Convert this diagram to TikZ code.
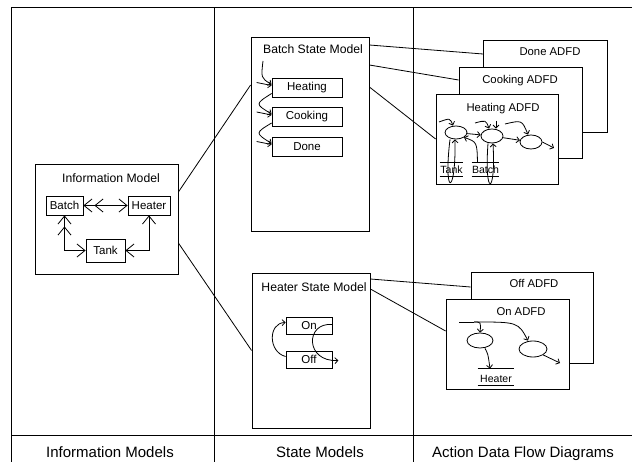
\documentclass[tikz,border=0pt]{standalone}
\usepackage{fontspec}
\setmainfont{Liberation Sans}
\usetikzlibrary{shapes.geometric,arrows.meta}
\tikzset{relone/.tip={Straight Barb[length=8pt,width=13pt]},
  relmany/.tip={Straight Barb[length=8pt,width=13pt,sep=2pt] Straight Barb[length=8pt,width=13pt]}}

\begin{document}
\begin{tikzpicture}[x=1pt, y=-1pt, line width=0.8pt,
  frameline/.style={line width=1pt},
  box/.style={draw, fill=white, inner sep=0pt, font=\fontsize{11.5}{13}\selectfont},
  boxtitle/.style={anchor=base, font=\fontsize{12.2}{14}\selectfont},
  adtitle/.style={anchor=base, font=\fontsize{11.3}{13}\selectfont},
  colname/.style={anchor=base, font=\fontsize{15}{18}\selectfont},
  bubble/.style={draw, ellipse, inner sep=0pt},
  store/.style={inner sep=0pt, font=\fontsize{10.5}{12}\selectfont},
  flow/.style={-{Straight Barb[length=3pt,width=6pt]}}]
\useasboundingbox (0,0) rectangle (632,462);

% page frame and columns
\draw[frameline] (11,462) -- (11,8) -- (632,8);
\foreach \x in {214,413} % column dividers
  \draw[frameline] (\x,8) -- (\x,462);
\draw[frameline] (11,435) -- (632,435);
\node[colname] (imcol) at (110,457) {Information Models};
\node[colname] (smcol) at (320,457) {State Models};
\node[colname] (adcol) at (523,457) {Action Data Flow Diagrams};

% information model
\node[box, minimum width=143, minimum height=110] (im) at (106.5,219) {};
\node[boxtitle] (imtitle) at (111,183) {Information Model};
\node[box, minimum width=37, minimum height=19] (batch) at (64.5,205.5) {Batch};
\node[box, minimum width=42, minimum height=19] (heater) at (149,205.5) {Heater};
\node[box, minimum width=39, minimum height=23] (tank) at (105.5,250.5) {Tank};
\draw[relmany-relone] (batch) -- (heater);
\draw[relmany-relone] (batch.south) |- (tank.west);
\draw[relone-relone] (heater.south) |- (tank.east);

% batch state model
\node[box, minimum width=118, minimum height=194] (bsm) at (310,134) {};
\node[boxtitle] (bsmtitle) at (313,54) {Batch State Model};
\node[box, minimum width=70, minimum height=19] (heating) at (307,87.5) {Heating};
\node[box, minimum width=70, minimum height=19] (cooking) at (307,117) {Cooking};
\node[box, minimum width=70, minimum height=19] (done) at (307,146.5) {Done};
\coordinate (binit) at (263,61);
\draw[flow] (binit) .. controls (261,78) .. ([yshift=3]heating.west);
\draw[flow] ([yshift=-6]heating.west) .. controls (255,104) .. ([yshift=3]cooking.west);
\draw[flow] ([yshift=-6]cooking.west) .. controls (255,133) .. ([yshift=3]done.west);
\foreach \s in {heating,cooking,done} % events
  \draw[flow] ([xshift=-15,yshift=5]\s.west) -- ([yshift=2]\s.west);

% heater state model
\node[box, minimum width=118, minimum height=155] (hsm) at (311,350.5) {};
\node[boxtitle] (hsmtitle) at (314,292) {Heater State Model};
\node[box, minimum width=46, minimum height=17] (hon) at (309,325.5) {On};
\node[box, minimum width=46, minimum height=17] (hoff) at (309,359.5) {Off};
\draw[flow] ([yshift=3]hoff.west) .. controls (268,352) and (268,323) .. ([yshift=3]hon.west);
\draw[flow] ([yshift=1]hon.east) .. controls (305,322) and (305,362) .. ([xshift=6,yshift=-1]hoff.east);

\draw ([yshift=27]im.east) -- ([yshift=49]bsm.west);
\draw ([yshift=-24]im.east) -- (hsm.west);

% batch ADFDs, back to front
\draw ([yshift=89]bsm.east) -- (483,54);
\node[box, minimum width=124, minimum height=92] (donead) at (545,86) {};
\node[adtitle] (doneadtitle) at (550,56) {Done ADFD};
\node[box, minimum width=123, minimum height=91] (cookingad) at (520.5,112.5) {};
\node[adtitle] (cookingadtitle) at (520,84) {Cooking ADFD};
\node[box, minimum width=122, minimum height=90] (heatingad) at (497,139) {};
\node[adtitle] (heatingadtitle) at (503,112) {Heating ADFD};
\draw ([yshift=69]bsm.east) -- ([yshift=32.5]cookingad.west);
\draw ([yshift=47]bsm.east) -- (heatingad.west);

\node[bubble, minimum width=22, minimum height=13] (hb1) at (456,132.5) {};
\node[bubble, minimum width=22, minimum height=14] (hb2) at (492,136) {};
\node[bubble, minimum width=22, minimum height=14] (hb3) at (531,142) {};
\node[store, minimum width=23, minimum height=13] (tankst) at (451.5,169.5) {Tank};
\node[store, minimum width=25, minimum height=13] (batchst) at (485.5,169.5) {Batch};
\foreach \s in {tankst,batchst}
  \draw (\s.north west) -- (\s.north east) (\s.south west) -- (\s.south east);
\coordinate (hin1) at (439,122);
\coordinate (hin2) at (475,123);
\coordinate (hin3) at (496,121);
\coordinate (hin4) at (505,124);
\coordinate (hout) at (554,148);
\draw[flow] (hin1) .. controls (450,118) .. ([xshift=-3]hb1.north);
\draw[flow] (hin2) .. controls (486,120) .. ([xshift=-3]hb2.north);
\draw[flow] (hin3) -- ([xshift=4]hb2.north);
\draw[flow] (hin4) .. controls (522,120) .. ([xshift=-3]hb3.north);
\draw[flow] (hb1) -- (hb2);
\draw[flow] (hb2) -- (hb3);
\draw[flow] (hb3.east) -- (hout);
\draw[flow] ([xshift=-6]hb1.south) .. controls (443,197) and (456,197) .. ([xshift=-1]hb1.south);
\draw[flow] ([xshift=-8]batchst.north) .. controls (477,142) .. (hb1.south east);
\draw[flow] ([xshift=-4]hb2.south) .. controls (484,197) and (496,197) .. ([xshift=1]hb2.south);

% heater ADFDs
\node[box, minimum width=122, minimum height=91] (offad) at (532,317.5) {};
\node[adtitle] (offadtitle) at (534,288) {Off ADFD};
\node[box, minimum width=123, minimum height=90] (onad) at (507.5,344) {};
\node[adtitle] (onadtitle) at (521,316) {On ADFD};
\draw ([yshift=71.5]hsm.east) -- ([yshift=30.5]offad.west);
\draw ([yshift=61.5]hsm.east) -- ([yshift=13]onad.west);

\node[bubble, minimum width=26, minimum height=15] (ob1) at (480,340.5) {};
\node[bubble, minimum width=28, minimum height=16] (ob2) at (533,349) {};
\node[store, minimum width=36, minimum height=16, text height=11pt, text depth=0pt] (heaterst) at (496,377) {Heater};
\draw (heaterst.north west) -- (heaterst.north east) (heaterst.south west) -- (heaterst.south east);
\coordinate (oin) at (459,322);
\coordinate (osplit) at (474,322);
\coordinate (oout) at (560,363);
\draw (oin) -- (osplit);
\draw[flow] (osplit) .. controls (481,322) .. (ob1.north);
\draw[flow] (osplit) .. controls (518,322) .. ([xshift=-5]ob2.north);
\draw[flow] ([xshift=5]ob1.south) .. controls (488,354) .. ([xshift=-6]heaterst.north);
\draw[flow] (ob2.south east) -- (oout);
\end{tikzpicture}
\end{document}
